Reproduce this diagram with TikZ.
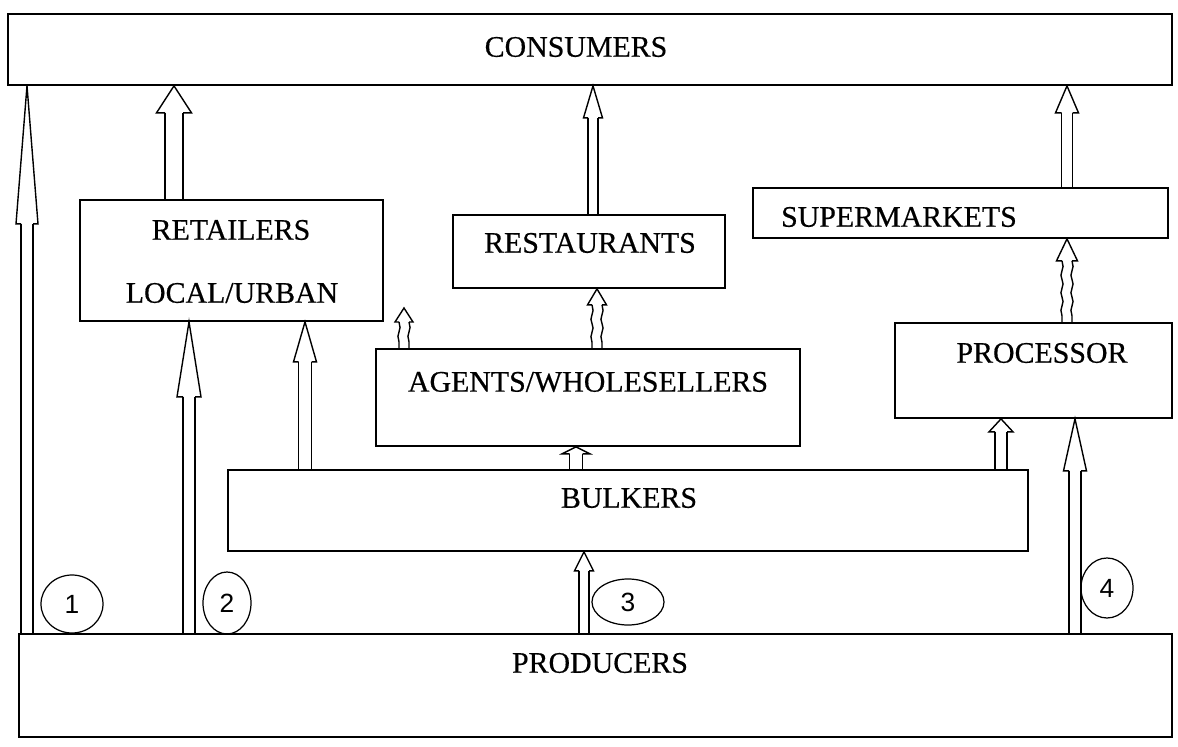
\documentclass[tikz,border=0pt]{standalone}
\usepackage{fontspec}
\setmainfont[FakeBold=0.5]{Liberation Serif}
\setsansfont{Liberation Sans}
\usetikzlibrary{fit,calc,shapes.geometric,decorations.pathmorphing}

\tikzset{
  box/.style={draw, line width=1pt, inner sep=0pt},
  lbl/.style={font=\fontsize{17}{20}\selectfont, inner sep=0pt},
  num/.style={draw, ellipse, line width=0.7pt, inner sep=0pt, font=\sffamily\fontsize{15}{18}\selectfont},
  arr/.style={line width=0.8pt, line join=miter},
  wavy/.style={decorate, decoration={snake, amplitude=0.6pt, segment length=10pt}}
}

%% hollow arrow: [shaft style] x, from, to, shaft half width, head half width, head length
\newcommand{\flowarrow}[7][]{%
  \path (#2,0 |- #4) coordinate (tip) (#2,0 |- #3) coordinate (base);
  \draw[arr] ($(tip)+(-#5,#7)$) -- ($(tip)+(-#6,#7)$) -- (tip) -- ($(tip)+(#6,#7)$) -- ($(tip)+(#5,#7)$);
  \draw[arr,#1] ($(tip)+(-#5,#7)$) -- ($(base)+(-#5,0)$);
  \draw[arr,#1] ($(tip)+(#5,#7)$) -- ($(base)+(#5,0)$);
}

\begin{document}
\begin{tikzpicture}[x=0.02cm,y=-0.02cm]
        \useasboundingbox (0,0) rectangle (1178,747);
        %% boxes
        \node[box, fit={(8,14) (1172,85)}] (cons) {};
        \node[box, fit={(80,200) (383,321)}] (ret) {};
        \node[box, fit={(453,215) (725,288)}] (rest) {};
        \node[box, fit={(753,188) (1168,238)}] (super) {};
        \node[box, fit={(376,349) (800,446)}] (agents) {};
        \node[box, fit={(895,323) (1172,418)}] (proc) {};
        \node[box, fit={(228,470) (1028,551)}] (bulk) {};
        \node[box, fit={(19,634) (1172,737)}] (prod) {};
        %% labels
        \node[lbl] (consT) at (576,47) {CONSUMERS};
        \node[lbl] (retT) at (231,230) {RETAILERS};
        \node[lbl] (retT2) at (232,293) {LOCAL/URBAN};
        \node[lbl] (restT) at (590,243) {RESTAURANTS};
        \node[lbl] (superT) at (899,217) {SUPERMARKETS};
        \node[lbl] (agentsT) at (588,382) {AGENTS/WHOLESELLERS};
        \node[lbl] (procT) at (1042,353) {PROCESSOR};
        \node[lbl] (bulkT) at (629,498) {BULKERS};
        \node[lbl] (prodT) at (600,663) {PRODUCERS};
        %% channel numbers
        \node[num, minimum width=62*0.02cm, minimum height=58*0.02cm] (n1) at (72,604) {1};
        \node[num, minimum width=48*0.02cm, minimum height=62*0.02cm] (n2) at (227,603) {2};
        \node[num, minimum width=72*0.02cm, minimum height=46*0.02cm] (n3) at (628,602) {3};
        \node[num, minimum width=52*0.02cm, minimum height=60*0.02cm] (n4) at (1107,588) {4};
        %% arrows
        \coordinate (agentsTip) at (404,308);
        \flowarrow{27}{prod.north}{cons.south}{6}{11}{138}
        \flowarrow{189}{prod.north}{ret.south}{6}{12}{75}
        \flowarrow{174}{ret.north}{cons.south}{9}{17.5}{27}
        \flowarrow{305}{bulk.north}{ret.south}{6.5}{11.5}{40}
        \flowarrow[wavy]{404}{agents.north}{agentsTip}{5}{9}{14}
        \flowarrow[wavy]{597}{agents.north}{rest.south}{5}{9.5}{16}
        \flowarrow{593}{rest.north}{cons.south}{5}{9.5}{32}
        \flowarrow{576}{bulk.north}{agents.south}{6.5}{14}{7}
        \flowarrow{1001}{bulk.north}{proc.south}{6}{12}{13}
        \flowarrow{1075}{prod.north}{proc.south}{6}{11.5}{52}
        \flowarrow[wavy]{1067}{proc.north}{super.south}{5}{10.5}{22}
        \flowarrow{1067}{super.north}{cons.south}{5.5}{11.5}{27}
        \flowarrow{584}{prod.north}{bulk.south}{5}{9.5}{19}
\end{tikzpicture}
\end{document}
